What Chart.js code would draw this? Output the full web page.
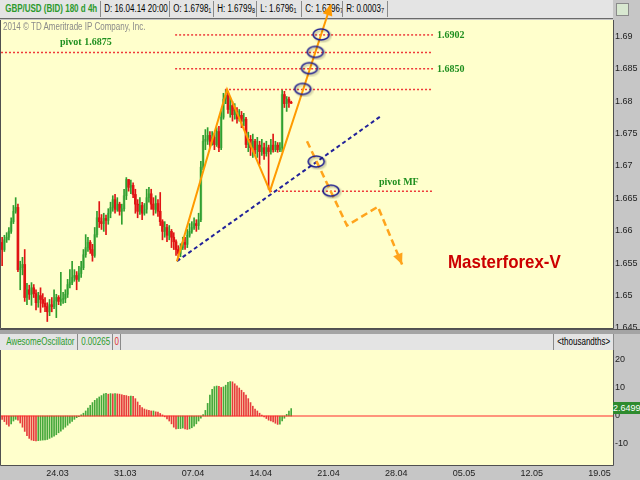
<!DOCTYPE html>
<html lang="en">
<head>
<meta charset="UTF-8">
<title>GBP/USD 4h</title>
<script src="https://cdn.jsdelivr.net/npm/chart.js"></script>
<style>
    body {
        margin: 0;
        width: 640px;
        height: 480px;
        overflow: hidden;
        position: relative;
        background: #c6c6c6;
        font-family: 'Liberation Sans', Arial, sans-serif;
    }
    .strip {
        position: absolute;
        left: 0;
        width: 613px;
        background: #e4e4e4;
        z-index: 1;
    }
    .cell {
        position: absolute;
        top: 1px;
        height: 16px;
        border-right: 1px solid #8a8a8a;
        font-size: 10px;
        line-height: 16px;
        white-space: nowrap;
        overflow: hidden;
    }
    .cell span {
        display: inline-block;
        transform: scaleX(0.8);
        transform-origin: left center;
        padding-left: 4px;
    }
    .cell sub { font-size: 7px; vertical-align: -1px; }
    .green { color: #2c9a2c; }
    .ann {
        position: absolute;
        z-index: 5;
        font-family: 'Liberation Serif', 'Times New Roman', serif;
        font-weight: bold;
        font-size: 10px;
        line-height: 12px;
        color: #1f8f1f;
        white-space: nowrap;
    }
    canvas { position: absolute; left: 0; }
    #price { top: 0; z-index: 2; }
    #osc { top: 350px; z-index: 2; }
</style>
</head>
<body>
    <div class="strip" style="top:0;height:18px;border-bottom:1px solid #6a6a6a;">
        <div class="cell" style="left:2px;width:98px;"><span class="green" style="font-weight:bold;">GBP/USD (BID) 180 d 4h</span></div>
        <div class="cell" style="left:101px;width:68px;"><span>D: 16.04.14 20:00</span></div>
        <div class="cell" style="left:170px;width:43px;"><span>O: 1.6798<sub>1</sub></span></div>
        <div class="cell" style="left:214px;width:42px;"><span>H: 1.6799<sub>8</sub></span></div>
        <div class="cell" style="left:257px;width:44px;"><span>L: 1.6796<sub>1</sub></span></div>
        <div class="cell" style="left:302px;width:40px;"><span>C: 1.6796<sub>7</sub></span></div>
        <div class="cell" style="left:343px;width:44px;"><span>R: 0.0003<sub>7</sub></span></div>
    </div>
    <div style="position:absolute;left:616px;top:3px;width:11px;height:11px;border:1px solid #8a8a8a;background:#d8e8d0;z-index:1;"></div>

    <div class="ann" style="left:3px;top:21px;font-family:'Liberation Sans',Arial,sans-serif;font-weight:normal;color:#8a8a8a;"><span style="display:inline-block;transform:scaleX(0.8);transform-origin:left center;">2014 © TD Ameritrade IP Company, Inc.</span></div>
    <div class="ann" style="left:60px;top:36px;">pivot 1.6875</div>
    <div class="ann" style="left:437px;top:29px;">1.6902</div>
    <div class="ann" style="left:437px;top:63px;">1.6850</div>
    <div class="ann" style="left:379px;top:176px;">pivot MF</div>
    <div class="ann" style="left:448px;top:252px;font-family:'Liberation Sans',Arial,sans-serif;font-size:19px;line-height:20px;color:#cc0000;"><span style="display:inline-block;transform:scaleX(0.89);transform-origin:left center;">Masterforex-V</span></div>

    <canvas id="price" width="640" height="330"></canvas>

    <div style="position:absolute;left:0;top:329px;width:640px;height:4px;background:#a4a4a4;border-top:1px solid #555;z-index:3;"></div>
    <div class="strip" style="top:334px;height:16px;z-index:3;">
        <div class="cell" style="left:3px;width:74px;top:0;"><span class="green">AwesomeOscillator</span></div>
        <div class="cell" style="left:78px;width:34px;top:0;"><span class="green">0.00265</span></div>
        <div class="cell" style="left:113px;width:7px;top:0;"><span style="color:#e03030;padding-left:2px;">0</span></div>
        <div class="cell" style="left:553px;width:59px;top:0;border-left:1px solid #8a8a8a;"><span>&lt;thousandths&gt;</span></div>
    </div>

    <canvas id="osc" width="640" height="130"></canvas>
    <div style="position:absolute;left:613px;top:402px;width:27px;height:12px;background:#2e8b2e;color:#fff;font-size:9px;line-height:12px;overflow:hidden;z-index:4;">2.6499</div>

<script>
// week labels on the bar index axis
const xTickValues = [24.5, 54.5, 84.5, 114.5, 144.5, 174.5, 204.5, 234.5, 264.5];
const xTickLabels = ['24.03', '31.03', '07.04', '14.04', '21.04', '28.04', '05.05', '12.05', '19.05'];

const priceTicks = [1.645, 1.65, 1.655, 1.66, 1.665, 1.67, 1.675, 1.68, 1.685, 1.69];
const priceTickLabels = ['1.645', '1.65', '1.655', '1.66', '1.665', '1.67', '1.675', '1.68', '1.685', '1.69'];

const aoTicks = [-10, 0, 10, 20];
const aoTickLabels = ['-10', '0', '10', '20'];

// 4h candles
const candleOpen = [
    1.6582, 1.6571, 1.6586, 1.6590, 1.6599, 1.6614, 1.6630, 1.6636, 1.6540, 1.6543,
    1.6548, 1.6497, 1.6509, 1.6502, 1.6512, 1.6503, 1.6489, 1.6500, 1.6494, 1.6488,
    1.6483, 1.6475, 1.6486, 1.6483, 1.6492, 1.6497, 1.6491, 1.6494, 1.6495, 1.6502,
    1.6517, 1.6520, 1.6528, 1.6531, 1.6525, 1.6534, 1.6543, 1.6563, 1.6574, 1.6582,
    1.6571, 1.6562, 1.6594, 1.6620, 1.6614, 1.6611, 1.6619, 1.6616, 1.6627, 1.6636,
    1.6648, 1.6633, 1.6641, 1.6630, 1.6634, 1.6654, 1.6679, 1.6667, 1.6670, 1.6656,
    1.6641, 1.6630, 1.6639, 1.6627, 1.6633, 1.6651, 1.6657, 1.6641, 1.6633, 1.6642,
    1.6630, 1.6614, 1.6599, 1.6605, 1.6593, 1.6599, 1.6590, 1.6583, 1.6571, 1.6565,
    1.6574, 1.6582, 1.6579, 1.6593, 1.6599, 1.6605, 1.6611, 1.6608, 1.6617, 1.6698,
    1.6738, 1.6741, 1.6747, 1.6738, 1.6744, 1.6733, 1.6753, 1.6728, 1.6775, 1.6803,
    1.6809, 1.6787, 1.6793, 1.6779, 1.6784, 1.6773, 1.6778, 1.6769, 1.6772, 1.6733,
    1.6741, 1.6728, 1.6738, 1.6725, 1.6732, 1.6722, 1.6728, 1.6719, 1.6728, 1.6722,
    1.6732, 1.6725, 1.6732, 1.6725, 1.6728, 1.6810, 1.6796, 1.6803, 1.67981
];
const candleHigh = [
    1.6590, 1.6593, 1.6597, 1.6605, 1.6620, 1.6639, 1.6651, 1.6641, 1.6553, 1.6559,
    1.6571, 1.6519, 1.6516, 1.6520, 1.6517, 1.6509, 1.6505, 1.6512, 1.6503, 1.6497,
    1.6489, 1.6494, 1.6497, 1.6509, 1.6502, 1.6500, 1.6536, 1.6505, 1.6509, 1.6525,
    1.6540, 1.6553, 1.6540, 1.6537, 1.6545, 1.6553, 1.6571, 1.6594, 1.6590, 1.6585,
    1.6579, 1.6605, 1.6630, 1.6645, 1.6625, 1.6627, 1.6624, 1.6634, 1.6644, 1.6654,
    1.6656, 1.6651, 1.6644, 1.6641, 1.6664, 1.6682, 1.6679, 1.6678, 1.6674, 1.6664,
    1.6648, 1.6651, 1.6644, 1.6642, 1.6664, 1.6667, 1.6664, 1.6651, 1.6654, 1.6648,
    1.6659, 1.6617, 1.6614, 1.6610, 1.6608, 1.6602, 1.6597, 1.6586, 1.6577, 1.6580,
    1.6590, 1.6590, 1.6602, 1.6611, 1.6614, 1.6620, 1.6617, 1.6627, 1.6707, 1.6747,
    1.6756, 1.6759, 1.6753, 1.6753, 1.6750, 1.6759, 1.6761, 1.6784, 1.6812, 1.6818,
    1.6815, 1.6806, 1.6799, 1.6796, 1.6790, 1.6787, 1.6784, 1.6781, 1.6775, 1.6752,
    1.6747, 1.6749, 1.6741, 1.6744, 1.6738, 1.6741, 1.6735, 1.6738, 1.6732, 1.6741,
    1.6749, 1.6738, 1.6736, 1.6736, 1.6818, 1.6815, 1.6807, 1.6806, 1.67998
];
const candleLow = [
    1.6546, 1.6568, 1.6582, 1.6586, 1.6596, 1.6611, 1.6627, 1.6537, 1.6509, 1.6532,
    1.6491, 1.6486, 1.6494, 1.6485, 1.6497, 1.6478, 1.6482, 1.6474, 1.6482, 1.6475,
    1.6460, 1.6469, 1.6475, 1.6480, 1.6466, 1.6486, 1.6485, 1.6488, 1.6489, 1.6497,
    1.6512, 1.6517, 1.6522, 1.6509, 1.6522, 1.6528, 1.6540, 1.6559, 1.6568, 1.6565,
    1.6553, 1.6559, 1.6590, 1.6605, 1.6602, 1.6599, 1.6594, 1.6610, 1.6620, 1.6630,
    1.6627, 1.6630, 1.6624, 1.6610, 1.6630, 1.6648, 1.6661, 1.6657, 1.6651, 1.6627,
    1.6620, 1.6625, 1.6617, 1.6624, 1.6627, 1.6644, 1.6633, 1.6624, 1.6627, 1.6622,
    1.6608, 1.6586, 1.6590, 1.6583, 1.6586, 1.6574, 1.6571, 1.6562, 1.6554, 1.6560,
    1.6571, 1.6571, 1.6574, 1.6590, 1.6596, 1.6602, 1.6599, 1.6602, 1.6614, 1.6694,
    1.6725, 1.6733, 1.6728, 1.6732, 1.6725, 1.6730, 1.6722, 1.6725, 1.6772, 1.6796,
    1.6781, 1.6775, 1.6769, 1.6772, 1.6766, 1.6769, 1.6759, 1.6762, 1.6728, 1.6722,
    1.6716, 1.6713, 1.6718, 1.6713, 1.6702, 1.6716, 1.6710, 1.6715, 1.6664, 1.6718,
    1.6721, 1.6722, 1.6721, 1.6722, 1.6722, 1.6790, 1.6784, 1.6790, 1.67961
];
const candleClose = [
    1.6571, 1.6586, 1.6590, 1.6599, 1.6614, 1.6630, 1.6636, 1.6540, 1.6543, 1.6548,
    1.6497, 1.6509, 1.6502, 1.6512, 1.6503, 1.6489, 1.6500, 1.6494, 1.6488, 1.6483,
    1.6475, 1.6486, 1.6483, 1.6492, 1.6497, 1.6491, 1.6494, 1.6495, 1.6502, 1.6517,
    1.6520, 1.6528, 1.6531, 1.6525, 1.6534, 1.6543, 1.6563, 1.6574, 1.6582, 1.6571,
    1.6562, 1.6594, 1.6620, 1.6614, 1.6611, 1.6619, 1.6616, 1.6627, 1.6636, 1.6648,
    1.6633, 1.6641, 1.6630, 1.6634, 1.6654, 1.6679, 1.6667, 1.6670, 1.6656, 1.6641,
    1.6630, 1.6639, 1.6627, 1.6633, 1.6651, 1.6657, 1.6641, 1.6633, 1.6642, 1.6630,
    1.6614, 1.6599, 1.6605, 1.6593, 1.6599, 1.6590, 1.6583, 1.6571, 1.6565, 1.6574,
    1.6582, 1.6579, 1.6593, 1.6599, 1.6605, 1.6611, 1.6608, 1.6617, 1.6698, 1.6738,
    1.6741, 1.6747, 1.6738, 1.6744, 1.6733, 1.6753, 1.6728, 1.6775, 1.6803, 1.6809,
    1.6787, 1.6793, 1.6779, 1.6784, 1.6773, 1.6778, 1.6769, 1.6772, 1.6733, 1.6741,
    1.6728, 1.6738, 1.6725, 1.6732, 1.6722, 1.6728, 1.6719, 1.6728, 1.6722, 1.6732,
    1.6725, 1.6732, 1.6725, 1.6728, 1.6810, 1.6796, 1.6803, 1.6798, 1.67967
];

// Awesome Oscillator, thousandths
const aoValues = [
    -1.2, -2.0, -3.0, -3.6, -2.8, -1.8, -1.2, -1.5, -2.5, -4.0,
    -5.5, -7.0, -8.0, -8.6, -8.8, -8.9, -8.8, -8.7, -8.6, -8.5,
    -8.4, -8.0, -7.6, -7.2, -6.7, -6.0, -5.4, -4.7, -4.0, -3.3,
    -2.6, -1.9, -1.2, -0.6, -0.2, 0.4, 1.0, 1.8, 2.8, 3.8,
    4.8, 5.6, 6.2, 6.8, 7.3, 7.9, 8.1, 7.8, 8.0, 7.9,
    8.0, 7.9, 7.8, 7.6, 7.4, 7.3, 7.0, 7.1, 7.0, 6.2,
    5.0, 3.8, 3.0, 2.5, 2.2, 2.0, 1.8, 1.8, 1.5, 1.4,
    0.9, 0.4, -0.3, -1.0, -1.8, -2.8, -4.0, -4.6, -4.5, -4.5,
    -4.3, -4.6, -4.8, -4.6, -4.2, -3.6, -2.8, -1.8, -0.8, 0.5,
    2.0, 4.5, 7.5, 9.5, 10.5, 10.7, 10.6, 10.2, 10.4, 11.0,
    12.0, 12.3, 12.2, 11.5, 10.8, 10.0, 9.2, 8.4, 7.5, 6.2,
    4.8, 3.5, 2.5, 1.8, 1.0, 0.3, -0.3, -0.9, -1.5, -1.8,
    -2.1, -2.6, -3.0, -2.9, -1.8, -0.8, 0.6, 1.8, 2.65
];

// drawn levels and wave marks (bar index, price)
const pivotLevels = [1.6902, 1.6875, 1.6850, 1.6818, 1.6661];
const pivotStart = [76.6, -0.5, 76.6, 98.7, 118.6];
const pivotEnd = 190.8;

const waveX = [77.4, 99.6, 118.6, 145.6];
const waveY = [1.6553, 1.6818, 1.6661, 1.6949];
const trendX = [77.4, 168.2];
const trendY = [1.6553, 1.6778];
const projX = [135.0, 152.7, 166.4, 177.1];
const projY = [1.6738, 1.6608, 1.6637, 1.6548];
const circleX = [133.3, 136.3, 138.9, 141.5, 139.3, 145.8];
const circleY = [1.6818, 1.6850, 1.6875, 1.6902, 1.6706, 1.6661];

const tickFont = { family: "'Liberation Sans', Arial, sans-serif", size: 9 };

// keep the plot area flush with the panel edges
function noEdgePadding(s) {
    s.paddingTop = 0;
    s.paddingBottom = 0;
    s.paddingLeft = 0;
    s.paddingRight = 0;
}

const panelPlugin = {
    id: 'panel',
    beforeDraw(chart) {
        const a = chart.chartArea, c = chart.ctx;
        c.save();
        c.fillStyle = '#ffffcc';
        c.fillRect(a.left, a.top, a.right - a.left, a.bottom - a.top);
        c.restore();
    },
    beforeDatasetsDraw(chart) {
        const a = chart.chartArea, c = chart.ctx;
        c.save();
        c.strokeStyle = '#505050';
        c.lineWidth = 1;
        c.beginPath();
        c.moveTo(a.left - 0.5, a.top);
        c.lineTo(a.left - 0.5, a.bottom + 0.5);
        c.lineTo(a.right + 0.5, a.bottom + 0.5);
        c.lineTo(a.right + 0.5, a.top);
        c.stroke();
        c.restore();
    }
};

const arrowPlugin = {
    id: 'arrows',
    afterDatasetsDraw(chart) {
        const c = chart.ctx;
        chart.data.datasets.forEach((ds, i) => {
            if (!ds.arrowHead) return;
            const pts = chart.getDatasetMeta(i).data;
            const p1 = pts[pts.length - 2], p2 = pts[pts.length - 1];
            const ang = Math.atan2(p2.y - p1.y, p2.x - p1.x);
            c.save();
            c.translate(p2.x, p2.y);
            c.rotate(ang);
            c.fillStyle = ds.borderColor;
            c.beginPath();
            c.moveTo(0, 0);
            c.lineTo(-11, -5);
            c.lineTo(-11, 5);
            c.closePath();
            c.fill();
            c.restore();
        });
    }
};

function ringImage() {
    const cv = document.createElement('canvas');
    cv.width = 21;
    cv.height = 16;
    const g = cv.getContext('2d');
    g.shadowColor = 'rgba(0,0,0,0.3)';
    g.shadowBlur = 2;
    g.shadowOffsetX = 1.5;
    g.shadowOffsetY = 1.5;
    g.strokeStyle = '#1c1c8e';
    g.lineWidth = 1.6;
    g.beginPath();
    g.ellipse(10, 7.5, 8, 5.5, 0, 0, Math.PI * 2);
    g.stroke();
    return cv;
}

const bodyColors = candleOpen.map((o, i) => candleClose[i] >= o ? '#8fd27c' : '#e01414');
const wickColors = candleOpen.map((o, i) => candleClose[i] >= o ? '#2f9e2f' : '#e01414');

const pivotSets = pivotLevels.map((lv, k) => ({
    type: 'line',
    data: [{ x: pivotStart[k], y: lv }, { x: pivotEnd, y: lv }],
    borderColor: '#ee3a3a',
    borderWidth: 1.5,
    borderDash: [2, 2],
    pointRadius: 0,
    order: 4
}));

new Chart(document.getElementById('price'), {
    type: 'bar',
    data: {
        datasets: [
            {
                type: 'bar',
                data: candleOpen.map((o, i) => ({ x: i, y: [o, candleClose[i]] })),
                backgroundColor: bodyColors,
                barThickness: 2,
                minBarLength: 1,
                grouped: false,
                order: 12
            },
            {
                type: 'bar',
                data: candleLow.map((l, i) => ({ x: i, y: [l, candleHigh[i]] })),
                backgroundColor: wickColors,
                barThickness: 1,
                grouped: false,
                order: 11
            },
            ...pivotSets,
            {
                type: 'line',
                data: trendX.map((x, i) => ({ x, y: trendY[i] })),
                borderColor: '#22229a',
                borderWidth: 2,
                borderDash: [4, 3],
                pointRadius: 0,
                order: 3
            },
            {
                type: 'line',
                data: waveX.map((x, i) => ({ x, y: waveY[i] })),
                borderColor: '#ff9a00',
                borderWidth: 2,
                pointRadius: 0,
                clip: false,
                arrowHead: true,
                order: 2
            },
            {
                type: 'line',
                data: projX.map((x, i) => ({ x, y: projY[i] })),
                borderColor: '#ffa41c',
                borderWidth: 2.5,
                borderDash: [7, 4],
                pointRadius: 0,
                arrowHead: true,
                order: 2
            },
            {
                type: 'line',
                data: circleX.map((x, i) => ({ x, y: circleY[i] })),
                showLine: false,
                pointStyle: ringImage(),
                pointRadius: 8,
                order: 0
            }
        ]
    },
    options: {
        responsive: false,
        animation: false,
        events: [],
        layout: { autoPadding: false, padding: { left: 1, top: 20, right: 0, bottom: 2 } },
        plugins: { legend: { display: false }, tooltip: { enabled: false } },
        scales: {
            x: { type: 'linear', min: -0.5, max: 270.5, offset: false, display: false },
            y: {
                position: 'right',
                min: 1.645,
                max: 1.6925,
                grid: { display: false, drawTicks: false },
                border: { display: false },
                afterBuildTicks: s => { s.ticks = priceTicks.map(v => ({ value: v })); },
                afterFit: s => { s.width = 27; noEdgePadding(s); },
                ticks: {
                    autoSkip: false,
                    padding: 2,
                    color: '#222',
                    font: tickFont,
                    callback: (v, i) => priceTickLabels[i]
                }
            }
        }
    },
    plugins: [panelPlugin, arrowPlugin]
});

const aoColors = aoValues.map((v, i) => v >= (i ? aoValues[i - 1] : 0) ? '#45a83a' : '#e63c3c');

new Chart(document.getElementById('osc'), {
    type: 'bar',
    data: {
        datasets: [
            {
                type: 'line',
                data: [{ x: -0.5, y: 0 }, { x: 270.5, y: 0 }],
                borderColor: '#ff2a2a',
                borderWidth: 1.2,
                pointRadius: 0,
                order: 0
            },
            {
                type: 'bar',
                data: aoValues.map((v, i) => ({ x: i, y: v })),
                backgroundColor: aoColors,
                barThickness: 1,
                order: 1
            }
        ]
    },
    options: {
        responsive: false,
        animation: false,
        events: [],
        layout: { autoPadding: false, padding: { left: 1, top: 0, right: 0, bottom: 0 } },
        plugins: { legend: { display: false }, tooltip: { enabled: false } },
        scales: {
            x: {
                type: 'linear',
                min: -0.5,
                max: 270.5,
                offset: false,
                grid: { display: false, drawTicks: false },
                border: { display: false },
                afterBuildTicks: s => { s.ticks = xTickValues.map(v => ({ value: v })); },
                afterFit: s => { s.height = 15; noEdgePadding(s); },
                ticks: {
                    autoSkip: false,
                    maxRotation: 0,
                    padding: 3,
                    color: '#222',
                    font: tickFont,
                    callback: (v, i) => xTickLabels[i]
                }
            },
            y: {
                position: 'right',
                min: -17.5,
                max: 23.57,
                grid: { display: false, drawTicks: false },
                border: { display: false },
                afterBuildTicks: s => { s.ticks = aoTicks.map(v => ({ value: v })); },
                afterFit: s => { s.width = 27; noEdgePadding(s); },
                ticks: {
                    autoSkip: false,
                    padding: 2,
                    color: '#222',
                    font: tickFont,
                    callback: (v, i) => aoTickLabels[i]
                }
            }
        }
    },
    plugins: [panelPlugin]
});
</script>
</body>
</html>
